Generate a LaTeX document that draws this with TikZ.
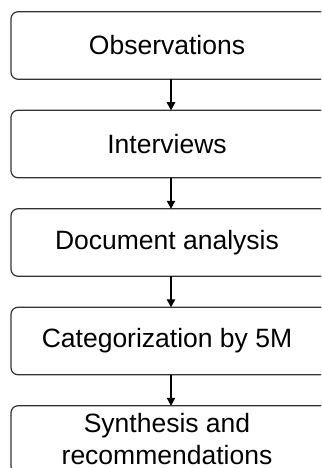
\documentclass[tikz,border=0pt]{standalone}
\usepackage{fontspec}
\setmainfont{Liberation Sans}
\usetikzlibrary{arrows.meta,positioning}
\begin{document}
\begin{tikzpicture}[line width=1.2pt,
  stepbox/.style={draw=black!80,rounded corners=7pt,minimum width=320pt,
    minimum height=67.5pt,inner sep=0pt,outer sep=0pt},
  steptext/.style={font=\fontsize{26.5}{32}\selectfont,align=center,xshift=-4pt},
  flow/.style={-{Triangle[length=8pt,width=8.5pt]},line width=1.1pt,draw=black}]
\useasboundingbox (0,0) rectangle (321pt,-468pt);
\clip (0,0) rectangle (321pt,-468pt);
%Kaesten
\node[stepbox,label={[steptext]center:Observations}] (obs) at (171pt,-45.5pt) {};
\node[stepbox,below=31pt of obs,label={[steptext]center:Interviews}] (inter) {};
\node[stepbox,below=31pt of inter,label={[steptext]center:Document analysis}] (docs) {};
\node[stepbox,below=31pt of docs,label={[steptext]center:Categorization by 5M}] (cat) {};
\node[stepbox,below=31pt of cat,label={[steptext]center:{Synthesis and\\recommendations}}] (synth) {};
%Pfeile
\draw[flow] (obs) -- (inter);
\draw[flow] (inter) -- (docs);
\draw[flow] (docs) -- (cat);
\draw[flow] (cat) -- (synth);
\end{tikzpicture}
\end{document}
